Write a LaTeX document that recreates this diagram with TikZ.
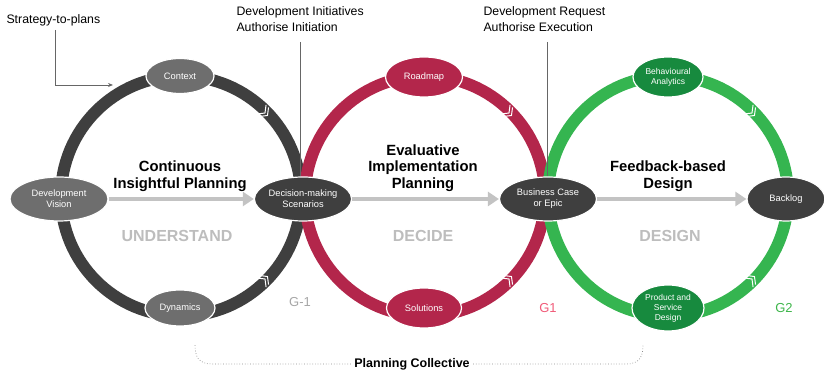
\documentclass[tikz,border=0pt]{standalone}
\usepackage{fontspec}
\setmainfont{Liberation Sans}
\usetikzlibrary{arrows.meta,calc,shapes.geometric}
\definecolor{ringdark}{HTML}{3F3F3F}
\definecolor{nodegrey}{HTML}{6E6E6E}
\definecolor{ringred}{HTML}{B3264B}
\definecolor{ringgreen}{HTML}{35B550}
\definecolor{nodegreen}{HTML}{178A3E}
\definecolor{arrowgrey}{HTML}{C3C3C3}
\definecolor{phasegrey}{HTML}{BDBDBD}
\definecolor{gpink}{HTML}{F05A78}
\definecolor{ggreen}{HTML}{3DB54A}
\newcommand\mychev[3]{%
  \begin{scope}[shift={(#1,#2)}, rotate=#3]
    \draw[white, line width=1pt, line join=miter] (-5,6.5)--(0,0)--(-5,-6.5) (-1.5,6.5)--(3.5,0)--(-1.5,-6.5);
  \end{scope}}
\begin{document}
\begin{tikzpicture}[x=1pt,y=1pt,
  ring/.style={line width=12pt},
  stage/.style={ellipse, draw=white, line width=1.2pt, text=white, font=\fontsize{9.3}{11}\selectfont, align=center, inner sep=0pt},
  flow/.style={draw=arrowgrey, line width=4pt, -{Triangle[length=11pt,width=14pt]}},
  title/.style={font=\bfseries\fontsize{14.8}{16.5}\selectfont, align=center},
  phase/.style={text=phasegrey, font=\bfseries\fontsize{16}{18}\selectfont},
  callout/.style={font=\fontsize{12.3}{16}\selectfont, align=left},
  gate/.style={font=\fontsize{13}{15}\selectfont},
  lead/.style={draw=black!60, line width=0.8pt}
]
\useasboundingbox (0,0) rectangle (824,374);
% rings
\draw[ring, ringdark] (181,178) circle [radius=120];
\draw[ring, ringred] (425,178) circle [radius=120];
\draw[ring, ringgreen] (668,178) circle [radius=120];
% chevrons
\mychev{265}{261}{-45}
\mychev{265}{95}{45}
\mychev{509}{261}{-45}
\mychev{509}{95}{45}
\mychev{752}{261}{-45}
\mychev{752}{95}{45}
% nodes
\node[stage, fill=nodegrey, minimum width=68pt, minimum height=35pt] (ctx) at (180,298) {Context};
\node[stage, fill=nodegrey, minimum width=98pt, minimum height=44pt] (dv) at (59,175) {Development\\Vision};
\node[stage, fill=ringdark, minimum width=95pt, minimum height=44pt] (dm) at (303,175) {Decision-making\\Scenarios};
\node[stage, fill=nodegrey, minimum width=70pt, minimum height=36pt] (dyn) at (180,66) {Dynamics};
\node[stage, fill=ringred, minimum width=77pt, minimum height=40pt] (rm) at (424,297) {Roadmap};
\node[stage, fill=ringred, minimum width=75pt, minimum height=40pt] (sol) at (424,66) {Solutions};
\node[stage, fill=ringdark, minimum width=97pt, minimum height=44pt] (bc) at (548,175) {Business Case\\or Epic};
\node[stage, fill=nodegreen, minimum width=70pt, minimum height=40pt, font=\fontsize{8.5}{10}\selectfont] (ba) at (668,297) {Behavioural\\Analytics};
\node[stage, fill=nodegreen, minimum width=72pt, minimum height=46pt, font=\fontsize{8.5}{10}\selectfont] (psd) at (668,66) {Product and\\Service\\Design};
\node[stage, fill=ringdark, minimum width=78pt, minimum height=44pt] (bl) at (786,175) {Backlog};
% flow arrows
\draw[flow] (dv) -- (dm);
\draw[flow] (dm) -- (bc);
\draw[flow] (bc) -- (bl);
% titles
\node[title] (t1) at (180,198) {Continuous\\Insightful Planning};
\node[title] (t2) at (423,206) {Evaluative\\Implementation\\Planning};
\node[title] (t3) at (668,198) {Feedback-based\\Design};
\node[phase] (p1) at (177,138) {UNDERSTAND};
\node[phase] (p2) at (423,138) {DECIDE};
\node[phase] (p3) at (670,138) {DESIGN};
\node[gate, text=black!35] (g0) at (300,72) {G-1};
\node[gate, text=gpink] (g1) at (548,66) {G1};
\node[gate, text=ggreen] (g2) at (784,66) {G2};
% callouts
\node[callout, anchor=west] (stp) at (3,354) {Strategy-to-plans};
\coordinate (s1) at (55,344);
\coordinate (s2) at (113,289);
\draw[lead, -{Stealth[length=5pt,width=4pt]}] (s1) |- (s2);
\node[callout, anchor=north west] (di) at (233,371) {Development Initiatives\\Authorise Initiation};
\node[callout, anchor=north west] (dr) at (480,371) {Development Request\\Authorise Execution};
\coordinate (l1) at (300,332);
\coordinate (l2) at (547,332);
\draw[lead] (l1) -- (l1 |- dm.north);
\draw[lead] (l2) -- (l2 |- bc.north);
% planning collective
\node[font=\bfseries\fontsize{12.5}{14}\selectfont] (pc) at (412,10) {Planning Collective};
\draw[dotted, black!45, line width=0.7pt] (pc.west) -- (212,10) .. controls (198,10) and (195,18) .. (195,29);
\draw[dotted, black!45, line width=0.7pt] (pc.east) -- (626,10) .. controls (640,10) and (643,18) .. (643,29);
\end{tikzpicture}
\end{document}
